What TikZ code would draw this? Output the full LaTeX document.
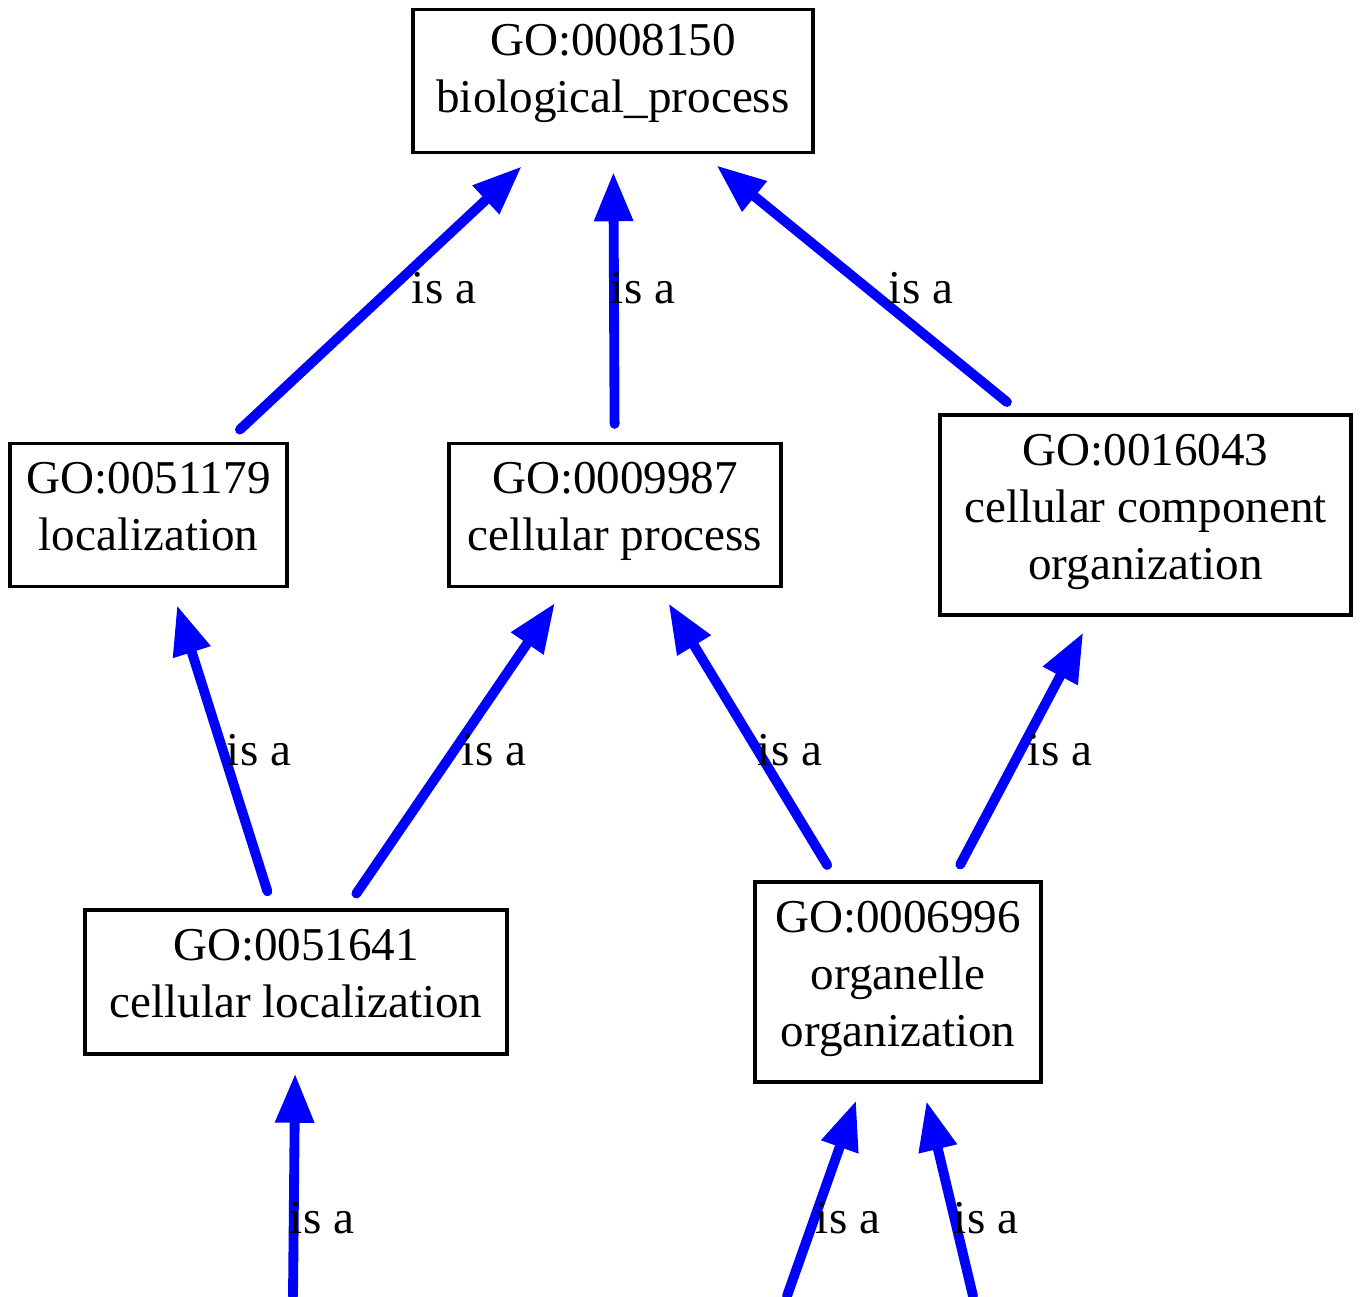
\documentclass[tikz,border=0pt]{standalone}
\usepackage{fontspec}
\setmainfont{Liberation Serif}
\usepackage{tikz}
\usetikzlibrary{arrows.meta}
\definecolor{isablue}{RGB}{0,0,255}
\newcommand{\termfont}{\fontsize{13.4}{16.2}\selectfont}

\begin{document}
\begin{tikzpicture}[
		term/.style={draw, line width=0.9pt, align=center, inner sep=0pt, text depth=0.17cm, font=\termfont},
		isa/.style={-{Triangle[length=14pt, width=10.5pt]}, line width=2.8pt, color=isablue, line cap=round, shorten >=0.18cm},
		gap/.style={shorten <=0.18cm},
		lbl/.style={font=\termfont, inner sep=0pt}
	]
			%%%%% START %%%%%
			
			\useasboundingbox (0, 0) rectangle (13.6, 12.96);
			
			\node[term, minimum width=4.0cm, minimum height=1.43cm, text depth=0.25cm] (bio) at (6.13, 12.15) {GO:0008150\\biological\_process};
			
			\node[term, minimum width=2.77cm, minimum height=1.43cm] (loc) at (1.485, 7.81) {GO:0051179\\localization};
			\node[term, minimum width=3.32cm, minimum height=1.43cm] (cp) at (6.15, 7.81) {GO:0009987\\cellular process};
			\node[term, minimum width=4.11cm, minimum height=2.0cm] (cco) at (11.455, 7.81) {GO:0016043\\cellular component\\organization};
			
			\node[term, minimum width=4.22cm, minimum height=1.44cm] (cl) at (2.96, 3.14) {GO:0051641\\cellular localization};
			\node[term, minimum width=2.86cm, minimum height=2.0cm] (oo) at (8.98, 3.14) {GO:0006996\\organelle\\organization};
			
			\coordinate (in1) at (2.93, 0);
			\coordinate (in2) at (7.87, 0);
			\coordinate (in3) at (9.73, 0);
			
			\draw[isa, gap] (loc) -- (bio);
			\draw[isa, gap] (cp) -- (bio);
			\draw[isa, gap] (cco) -- (bio);
			
			\draw[isa, gap] (cl) -- (loc);
			\draw[isa, gap] (cl) -- (cp);
			\draw[isa, gap] (oo) -- (cp);
			\draw[isa, gap] (oo) -- (cco);
			
			\draw[isa] (in1) -- (cl);
			\draw[isa] (in2) -- (oo);
			\draw[isa] (in3) -- (oo);
			
			\node[lbl] (l1) at (4.44, 10.08) {is a};
			\node[lbl] (l2) at (6.43, 10.08) {is a};
			\node[lbl] (l3) at (9.21, 10.08) {is a};
			\node[lbl] (l4) at (2.59, 5.46) {is a};
			\node[lbl] (l5) at (4.94, 5.46) {is a};
			\node[lbl] (l6) at (7.90, 5.46) {is a};
			\node[lbl] (l7) at (10.60, 5.46) {is a};
			\node[lbl] (l8) at (3.22, 0.78) {is a};
			\node[lbl] (l9) at (8.48, 0.78) {is a};
			\node[lbl] (l10) at (9.86, 0.78) {is a};
			
			%%%%% END %%%%%
\end{tikzpicture}
\end{document}
